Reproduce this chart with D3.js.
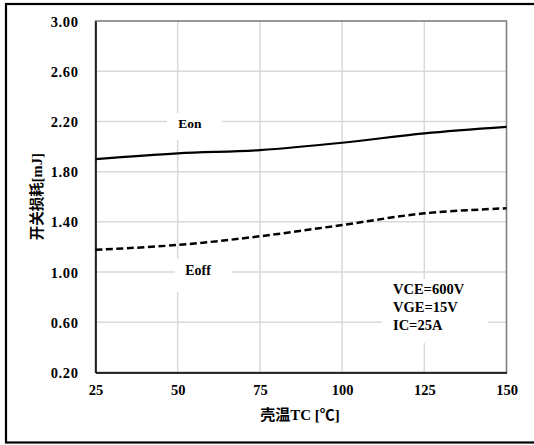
<!DOCTYPE html>
<html><head><meta charset="utf-8">
<script src="https://cdn.jsdelivr.net/npm/d3@7"></script>
<style>
html,body{margin:0;padding:0;background:#fff;}
svg text{font-family:"Liberation Serif","Noto Sans CJK SC",serif;font-weight:bold;fill:#000;}
</style></head>
<body><svg id="c" width="534" height="445"></svg>
<script>
const temps = [25, 50, 75, 100, 125, 150];
const eon = [1.90, 1.946, 1.972, 2.03, 2.105, 2.157];
const eoff = [1.177, 1.216, 1.285, 1.375, 1.468, 1.508];
const xTicks = [25, 50, 75, 100, 125, 150];
const yTicks = [0.2, 0.6, 1.0, 1.4, 1.8, 2.2, 2.6, 3.0];
const conditions = ["VCE=600V", "VGE=15V", "IC=25A"];
const xTitle = "壳温TC [℃]";
const yTitle = "开关损耗[mJ]";

const FONT = '"Liberation Serif","Noto Sans CJK SC",serif';
const svg = d3.select("#c");
const L = 95.5, R = 506.5, T = 21, B = 372.5;
const x = d3.scaleLinear().domain([25, 150]).range([L, R]);
const y = d3.scaleLinear().domain([0.2, 3.0]).range([B, T]);

// outer frame
svg.append("rect").attr("x", 6).attr("y", 4).attr("width", 540).attr("height", 438.5)
  .attr("fill", "none").attr("stroke", "#000").attr("stroke-width", 2.2);

// grid
const g = svg.append("g");
g.selectAll("line.h").data(yTicks).join("line")
  .attr("x1", L).attr("x2", R).attr("y1", d => y(d)).attr("y2", d => y(d))
  .attr("stroke", "#d9d9d9").attr("stroke-width", 1.5);
g.selectAll("line.v").data(xTicks).join("line")
  .attr("y1", T).attr("y2", B).attr("x1", d => x(d)).attr("x2", d => x(d))
  .attr("stroke", "#d9d9d9").attr("stroke-width", 1.5);

// plot border
svg.append("rect").attr("x", L).attr("y", T).attr("width", R - L).attr("height", B - T)
  .attr("fill", "none").attr("stroke", "#808080").attr("stroke-width", 1.5);

// label background boxes (cover gridlines)
const boxes = [
  {x0: 167, y0: 113, x1: 222, y1: 140},
  {x0: 175, y0: 259, x1: 232, y1: 292},
  {x0: 382, y0: 279, x1: 488, y1: 343}
];
svg.selectAll("rect.bx").data(boxes).join("rect")
  .attr("x", d => d.x0).attr("y", d => d.y0)
  .attr("width", d => d.x1 - d.x0).attr("height", d => d.y1 - d.y0).attr("fill", "#fff");

// axes
const xAxis = d3.axisBottom(x).tickValues(xTicks).tickSize(0).tickPadding(12).tickFormat(d3.format("d"));
const yAxis = d3.axisLeft(y).tickValues(yTicks).tickSize(0).tickPadding(17).tickFormat(d3.format(".2f"));
const gx = svg.append("g").attr("transform", `translate(0,${B})`).call(xAxis).attr("font-family", FONT);
const gy = svg.append("g").attr("transform", `translate(${L},0)`).call(yAxis).attr("font-family", FONT);
gx.select(".domain").attr("stroke", "#000").attr("stroke-width", 1.5);
gy.select(".domain").attr("stroke", "#000").attr("stroke-width", 1.5);
gx.selectAll("text").style("font-family", FONT).style("font-size", "14.5px").style("font-weight", "bold").attr("fill", "#000");
gy.selectAll("text").style("font-family", FONT).style("font-size", "14.5px").style("font-weight", "bold")
  .style("letter-spacing", "0.6px").attr("fill", "#000").attr("dy", "0.35em");

// lines
const line = d3.line().curve(d3.curveCatmullRom.alpha(0.5));
svg.append("path").attr("d", line(temps.map((t, i) => [x(t), y(eon[i])])))
  .attr("fill", "none").attr("stroke", "#000").attr("stroke-width", 2.2);
svg.append("path").attr("d", line(temps.map((t, i) => [x(t), y(eoff[i])])))
  .attr("fill", "none").attr("stroke", "#000").attr("stroke-width", 2.5)
  .attr("stroke-dasharray", "7,3.5");

// series labels
svg.append("text").attr("x", 190).attr("y", 127.5).attr("text-anchor", "middle")
  .style("font-size", "13.5px").text("Eon");
svg.append("text").attr("x", 198).attr("y", 275).attr("text-anchor", "middle")
  .style("font-size", "14px").text("Eoff");

// conditions
svg.selectAll("text.cond").data(conditions).join("text")
  .attr("x", 393).attr("y", (d, i) => 294 + i * 18)
  .style("font-size", "14.5px").text(d => d);

// axis titles
svg.append("text").attr("x", 300).attr("y", 420).attr("text-anchor", "middle")
  .style("font-size", "15px").text(xTitle);
svg.append("text").attr("transform", `translate(42,${(T + B) / 2}) rotate(-90)`)
  .attr("text-anchor", "middle").style("font-size", "14.5px").text(yTitle);
</script></body></html>
